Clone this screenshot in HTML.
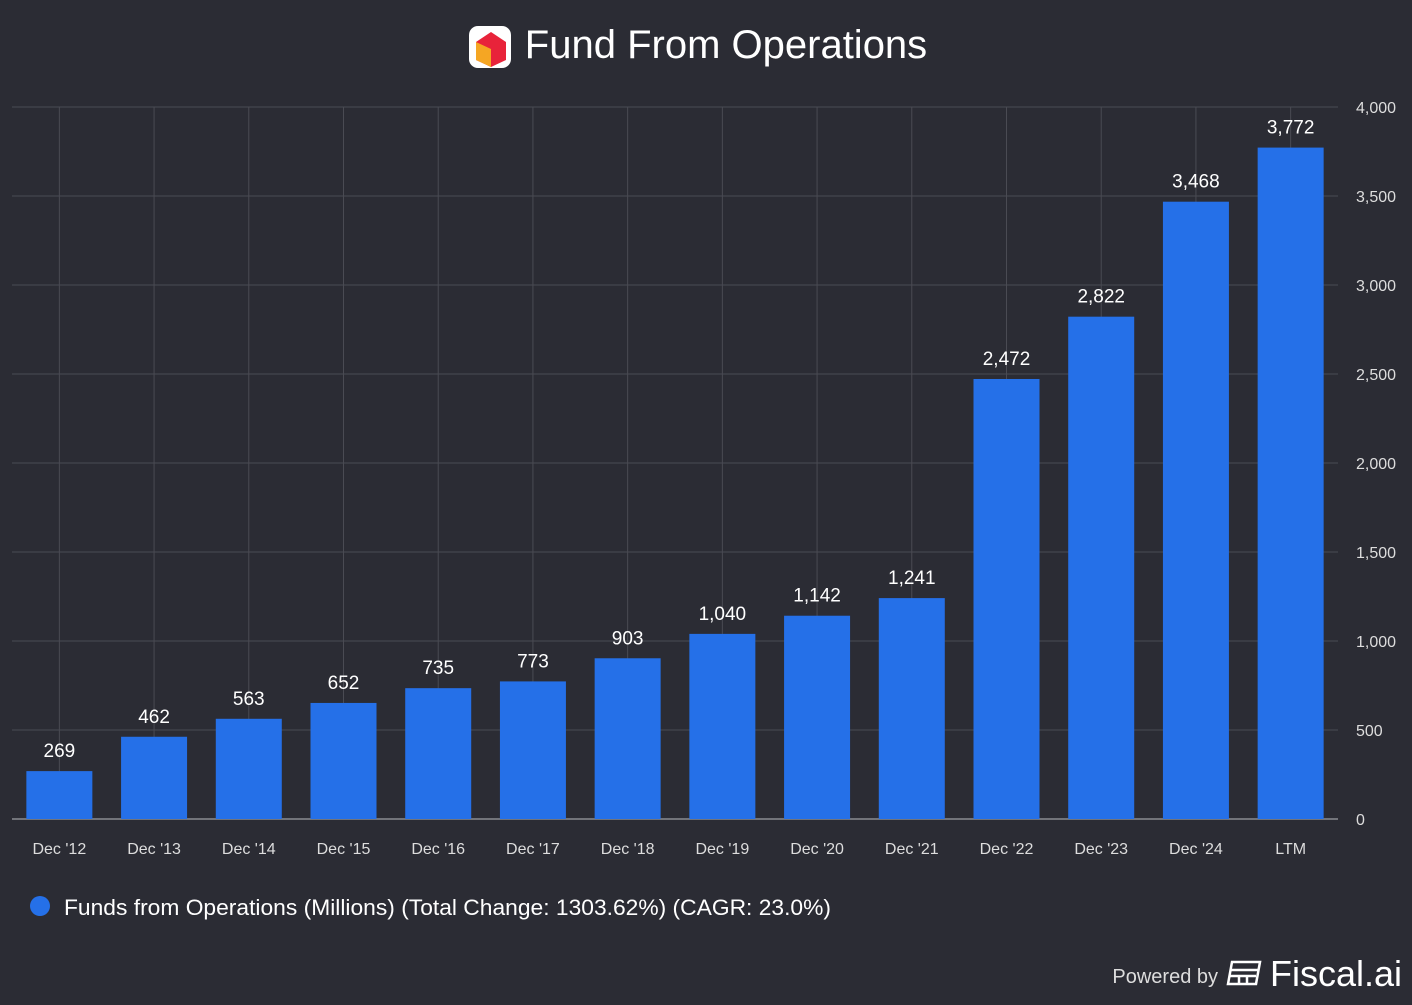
<!DOCTYPE html>
<html><head><meta charset="utf-8"><style>
body{margin:0;background:#2b2c34;width:1412px;height:1000px;overflow:hidden;font-family:"Liberation Sans",sans-serif;}
svg text{font-family:"Liberation Sans",sans-serif;}
</style></head><body>
<svg id="c" width="1412" height="1000">
<rect width="1412" height="1000" fill="#2b2c34"/>
<g>
<rect x="469" y="26" width="42" height="42" rx="9" fill="#fff"/>
<polygon points="476,42 491,32 506,42 506,60 491,67 476,60" fill="#e8233a"/>
<polygon points="476,42 491,49 491,67 476,60" fill="#f5a623"/>
</g>
<text x="726" y="58" text-anchor="middle" font-size="40" fill="#fff">Fund From Operations</text>
<g id="grid"></g><g id="bars"></g><g id="labels"></g>
<circle cx="40" cy="906" r="10" fill="#2570e8"/>
<text x="64" y="915" font-size="22" textLength="767" lengthAdjust="spacingAndGlyphs" fill="#fff">Funds from Operations (Millions) (Total Change: 1303.62%) (CAGR: 23.0%)</text>
<text x="1218" y="983" text-anchor="end" font-size="20" fill="#ddd">Powered by</text>
<g fill="none" stroke="#fff" stroke-width="2.5">
<path d="M1232 962 h28 l-4 22 h-28 z"/><path d="M1231 970 h27 M1239 976 v8 M1247 976 v8 M1230 976 h26"/>
</g>
<text x="1270" y="986" font-size="36" fill="#fff">Fiscal.ai</text>
</svg>
<script>
const categories=["Dec '12","Dec '13","Dec '14","Dec '15","Dec '16","Dec '17","Dec '18","Dec '19","Dec '20","Dec '21","Dec '22","Dec '23","Dec '24","LTM"];
const values=[269,462,563,652,735,773,903,1040,1142,1241,2472,2822,3468,3772];
const yTicks=[0,500,1000,1500,2000,2500,3000,3500,4000];
const NS="http://www.w3.org/2000/svg";
const x0=12,x1=1338,y0=819,y1=107,yMax=4000;
const band=(x1-x0)/categories.length;
const xc=i=>x0+band*(i+0.5);
const y=v=>y0-(v/yMax)*(y0-y1);
function mk(p,t,a){const e=document.createElementNS(NS,t);for(const k in a)e.setAttribute(k,a[k]);document.getElementById(p).appendChild(e);return e;}
yTicks.forEach(t=>{
 const l=mk('grid','line',{x1:x0,x2:x1,y1:y(t),y2:y(t),stroke:t===0?'#8a8b92':'#4a4b53','stroke-width':t===0?1.5:1});
 
 
 const tx=mk('labels','text',{x:1356,y:y(t)+6,'font-size':16,fill:'#ddd'});tx.textContent=t.toLocaleString('en-US');
 
 
});
categories.forEach((c,i)=>{
 const l=mk('grid','line',{x1:xc(i),x2:xc(i),y1:y1,y2:y0,stroke:'#4a4b53','stroke-width':1});
 
 
 const b=mk('bars','rect',{x:xc(i)-33,y:y(values[i]),width:66,height:y0-y(values[i]),fill:'#2570e8'});
 
 
 const v=mk('labels','text',{x:xc(i),y:y(values[i])-14,'text-anchor':'middle','font-size':19,fill:'#fff'});v.textContent=values[i].toLocaleString('en-US');
 
 
 const t=mk('labels','text',{x:xc(i),y:854,'text-anchor':'middle','font-size':16,fill:'#ddd'});t.textContent=c;
 
 
});
</script>
</body></html>
